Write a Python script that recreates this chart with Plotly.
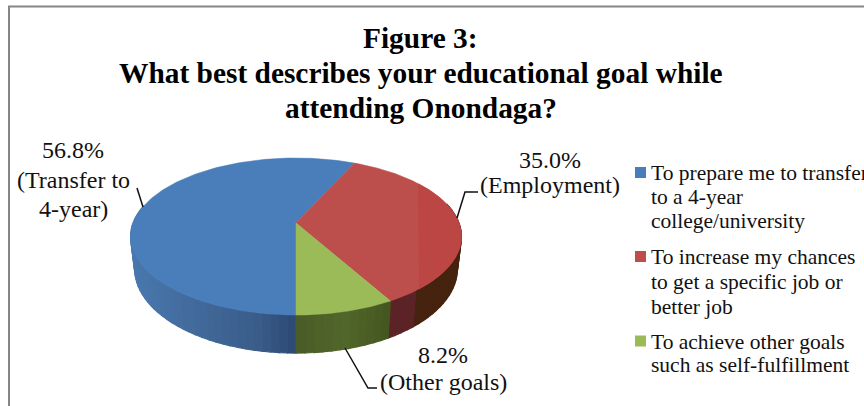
import numpy as np
import plotly.graph_objects as go

# ---- data ----
categories = ["Transfer to 4-year", "Employment", "Other goals"]
shares = [56.8, 35.0, 8.2]
slice_colors = ["#4A7EBB", "#BC4F4C", "#9BBB59"]

legend_lines = [
    ["To prepare me to transfer", "to a 4-year", "college/university"],
    ["To increase my chances", "to get a specific job or", "better job"],
    ["To achieve other goals", "such as self-fulfillment"],
]
title_lines = ["Figure 3:", "What best describes your educational goal while", "attending Onondaga?"]
label_lines = [
    ["56.8%", "(Transfer to", "4-year)"],
    ["35.0%", "(Employment)"],
    ["8.2%", "(Other goals)"],
]

# ---- layout constants (pixels) ----
W, H = 864, 406
CX, CY, A, B, P = 296.0, 223.0, 163.0, 76.2, 0.172
DEPTH, BOTTOM_SCALE = 31.5, 0.975
SERIF = "Liberation Serif"


def top_ring(t):
    u, v = -np.sin(t), np.cos(t)
    d = 1 - P * v
    return CX + A * u / d, CY + B * v / d


def bottom_ring(t):
    u, v = -np.sin(t), np.cos(t)
    d = 1 - P * v
    return CX + A * BOTTOM_SCALE * u / d, CY + B * v / d + DEPTH / d


def lerp_color(stops, x):
    xs = [s[0] for s in stops]
    rgb = [np.interp(x, xs, [int(s[1][i:i + 2], 16) for s in stops]) for i in (1, 3, 5)]
    return "rgb(%d,%d,%d)" % tuple(rgb)


side_stops = [
    [(130, "#4A79AE"), (200, "#42699A"), (260, "#3A5C88"), (295, "#2C4A75")],
    [(390, "#5C2327"), (418, "#5C2327"), (418.01, "#45230F"), (465, "#45230F")],
    [(295, "#4A5C28"), (345, "#52672B"), (392, "#43561F")],
]

edges = np.deg2rad(np.cumsum([0] + shares) * 3.6)
fig = go.Figure()


def poly(xs, ys, color, name, lw=0.5):
    fig.add_trace(go.Scatter(x=xs, y=ys, mode="lines", fill="toself", fillcolor=color,
                             line=dict(color=color, width=lw), name=name,
                             showlegend=False, hoverinfo="name"))


# side wall strips
for i, cat in enumerate(categories):
    n = max(int(np.rad2deg(edges[i + 1] - edges[i]) / 2.5), 2)
    ts = np.linspace(edges[i], edges[i + 1], n + 1)
    for t0, t1 in zip(ts[:-1], ts[1:]):
        if np.cos((t0 + t1) / 2) < -0.25:
            continue
        x0, y0 = top_ring(t0)
        x1, y1 = top_ring(t1)
        x2, y2 = bottom_ring(t1)
        x3, y3 = bottom_ring(t0)
        poly([x0, x1, x2, x3, x0], [y0, y1, y2, y3, y0],
             lerp_color(side_stops[i], (x0 + x1) / 2), cat + " side", lw=1.2)

# top faces
for i, cat in enumerate(categories):
    ts = np.linspace(edges[i], edges[i + 1], 160)
    xs, ys = top_ring(ts)
    poly([CX, *xs, CX], [CY, *ys, CY], slice_colors[i], cat)

# subtle brighter band on the red slice
ts = np.linspace(edges[1], edges[2], 240)
xs, ys = top_ring(ts)
mask = xs >= 418
poly(list(xs[mask]) + [xs[mask][0]], list(ys[mask]) + [ys[mask][0]], "#BC4644", "Employment band")

# leader lines
leaders = [
    ([137, 143], [188, 207]),
    ([478, 465, 457], [192, 192, 218]),
    ([345, 368, 377], [348, 388, 388]),
]
for lx, ly in leaders:
    fig.add_trace(go.Scatter(x=lx, y=ly, mode="lines", line=dict(color="#111111", width=1.5),
                             showlegend=False, hoverinfo="skip"))

# legend swatches
swatch_y = [172.5, 256.5, 341]
for c, y, cat in zip(slice_colors, swatch_y, categories):
    fig.add_trace(go.Scatter(x=[640.5], y=[y], mode="markers", name=cat,
                             marker=dict(symbol="square", size=11, color=c, line=dict(width=0)),
                             showlegend=False, hoverinfo="name"))

annotations = []


def text(s, x, y, size, anchor="center", bold=False, color="#111111"):
    annotations.append(dict(x=x, y=y, xref="x", yref="y", text=f"<b>{s}</b>" if bold else s,
                            showarrow=False, xanchor=anchor, yanchor="middle",
                            font=dict(family=SERIF, size=size, color=color)))


for s, y in zip(title_lines, [38, 73, 108]):
    text(s, 420.5, y, 29.4, bold=True, color="#000000")
for lines, x, ys in zip(label_lines, [73, 550, 443], [[150, 180, 209], [160, 185], [355, 382]]):
    for s, y in zip(lines, ys):
        text(s, x, y, 24)
for lines, ys in zip(legend_lines, [[173, 197, 221], [257, 282, 307], [342, 365]]):
    for s, y in zip(lines, ys):
        text(s, 649, y, 21.5, anchor="left")

fig.update_layout(
    width=W, height=H, margin=dict(l=0, r=0, t=0, b=0),
    paper_bgcolor="white", plot_bgcolor="white", showlegend=False,
    xaxis=dict(range=[0, W], visible=False, fixedrange=True),
    yaxis=dict(range=[H, 0], visible=False, fixedrange=True),
    annotations=annotations,
    shapes=[dict(type="rect", xref="x", yref="y", x0=9, y0=6.5, x1=W + 30, y1=H + 30,
                 line=dict(color="#868686", width=2), fillcolor="rgba(0,0,0,0)", layer="below")],
)
fig.write_html("out.html", config={"displayModeBar": False},
               post_script="document.body.style.margin='0';document.documentElement.style.overflow='hidden';")
